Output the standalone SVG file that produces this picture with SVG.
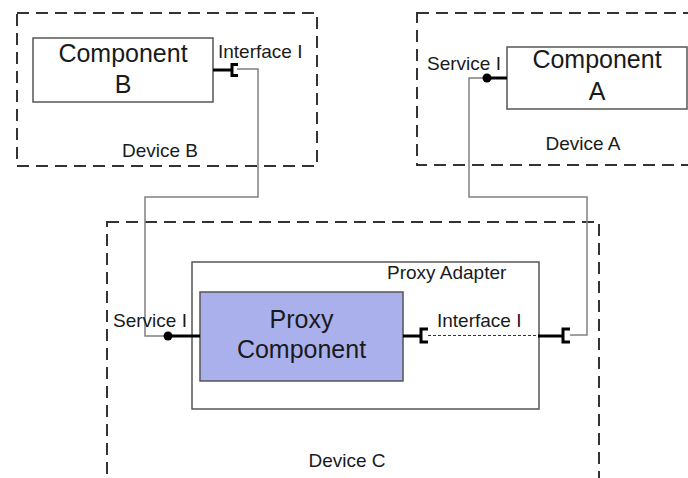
<svg xmlns="http://www.w3.org/2000/svg" width="688" height="478" viewBox="0 0 688 478">
<style>
.dev{fill:none;stroke:#333;stroke-width:2;stroke-dasharray:12 7}
.box{fill:#fff;stroke:#555;stroke-width:1.5}
.proxy{fill:#aab0ec;stroke:#555;stroke-width:1.5}
.wire{fill:none;stroke:#808080;stroke-width:1.5}
.thick{fill:none;stroke:#000;stroke-width:3}
.sock{fill:none;stroke:#000;stroke-width:3;stroke-linejoin:miter}
.dot{fill:#000}
.dotted{fill:none;stroke:#333;stroke-width:1;stroke-dasharray:3 2}
text{font-family:"Liberation Sans",Arial,sans-serif;fill:#1a1a1a}
.big{font-size:25px;text-anchor:middle}
.lbl{font-size:19px}
.mid{text-anchor:middle}
</style>
<rect width="688" height="478" fill="#fff"/>
<g id="deviceB">
<rect class="dev" x="17" y="13" width="300" height="153"/>
<text class="lbl mid" x="160" y="157">Device B</text>
</g>
<g id="deviceA">
<rect class="dev" x="417" y="13" width="290" height="152"/>
<text class="lbl mid" x="583" y="150">Device A</text>
</g>
<g id="deviceC">
<rect class="dev" x="107" y="222" width="492" height="280"/>
<text class="lbl mid" x="347" y="467">Device C</text>
</g>
<g id="componentB">
<rect class="box" x="33" y="38" width="180" height="64"/>
<text class="big" x="123" y="62">Component</text>
<text class="big" x="123" y="93">B</text>
</g>
<g id="componentA">
<rect class="box" x="507" y="47" width="180" height="62"/>
<text class="big" x="597" y="68">Component</text>
<text class="big" x="597" y="100">A</text>
</g>
<g id="proxyAdapter">
<rect class="box" x="192" y="262" width="347" height="147"/>
<text class="lbl" x="387" y="279">Proxy Adapter</text>
</g>
<g id="proxyComponent">
<rect class="proxy" x="200" y="292" width="203" height="89"/>
<text class="big" x="301.5" y="328">Proxy</text>
<text class="big" x="301.5" y="358">Component</text>
</g>
<g id="connectors">
<polyline class="wire" points="237,69 258,69 258,197 145,197 145,336 168,336"/>
<polyline class="wire" points="487,78 469,78 469,197 587,197 587,335 570,335"/>
<line class="dotted" x1="428" y1="335.5" x2="538" y2="335.5"/>
<line class="thick" x1="213" y1="70" x2="232" y2="70"/>
<polyline class="sock" points="238,64.5 232,64.5 232,75.5 238,75.5"/>
<line class="thick" x1="487" y1="78" x2="507" y2="78"/>
<circle class="dot" cx="487" cy="78" r="4.5"/>
<line class="thick" x1="168" y1="336" x2="200" y2="336"/>
<circle class="dot" cx="168" cy="336" r="4.5"/>
<line class="thick" x1="403" y1="336" x2="421" y2="336"/>
<polyline class="sock" points="428,329 421,329 421,342 428,342"/>
<line class="thick" x1="538" y1="336" x2="563" y2="336"/>
<polyline class="sock" points="570,329 563,329 563,342 570,342"/>
</g>
<g id="labels">
<text class="lbl" x="218" y="58">Interface I</text>
<text class="lbl" x="427" y="70">Service I</text>
<text class="lbl" x="113" y="327">Service I</text>
<text class="lbl" x="437" y="327">Interface I</text>
</g>
</svg>
